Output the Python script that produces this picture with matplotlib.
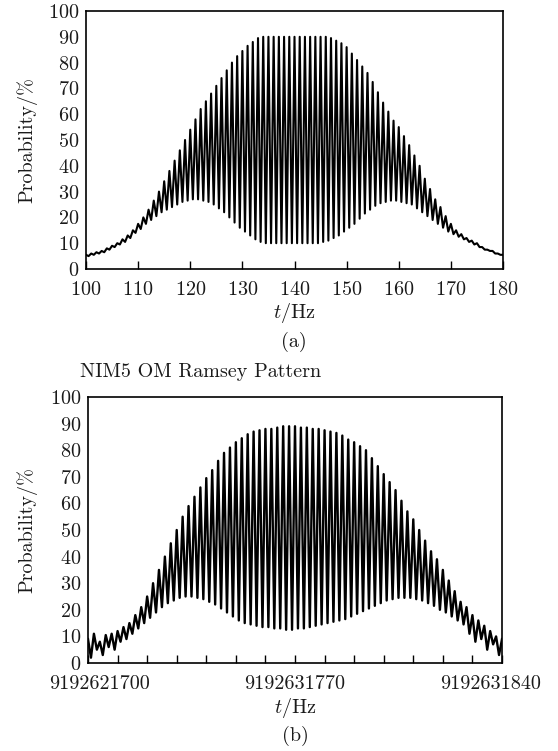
import numpy as np
import matplotlib
matplotlib.use('Agg')
import matplotlib.pyplot as plt
import matplotlib.transforms as mtransforms

plt.rcParams['font.family'] = 'cmr10'
plt.rcParams['mathtext.fontset'] = 'cm'
plt.rcParams['axes.formatter.use_mathtext'] = True

# --- (a) fringe peaks (whole Hz) and troughs (half Hz) ---
peak_hz_a = np.arange(100, 181)
peak_a = [5.5, 6, 6.5, 7, 8, 9, 10, 11.5, 13, 15,
          17.5, 20, 23, 26.5, 30, 34, 38, 42, 46, 50,
          54, 58, 62, 65, 68, 71, 74, 77, 80, 82.5,
          84.5, 86.5, 88, 89.5, 90,
          90, 90, 90, 90, 90, 90, 90, 90, 90, 90, 90, 90,
          89.5, 88.5, 87.5, 86, 83.5, 81, 78.5, 76, 72.5, 68.5,
          64.5, 61, 57.5, 55, 51.5, 48, 44, 40, 35, 31,
          27, 24, 20.5, 17.5, 15, 13.5, 12, 11, 10, 8.5,
          7.5, 7, 6, 5.5]
trough_hz_a = np.arange(100.5, 180, 1.0)
trough_a = [5, 5.5, 6, 6.5, 7.5, 8.5, 9.5, 10.5, 12, 14,
            15.5, 17.5, 19, 20.5, 22, 23, 24, 25, 26, 26.5,
            27, 27, 26.5, 26, 25, 23.5, 22, 20, 18, 16,
            14.5, 13, 11.5, 10.5, 10,
            10, 10, 10, 10, 10, 10, 10, 10, 10, 10,
            10.5, 11, 12, 13, 14.5, 16, 17.5, 19.5, 21.5, 23,
            24.5, 25.5, 26, 26.5, 26.5, 26, 25.5, 25, 23.5, 22,
            20.5, 19, 17.5, 16, 14.5, 13.5, 12.5, 11.5, 10.5, 9.5,
            8.5, 7.5, 7, 6, 5.5]

# --- (b) measured pattern, offset from left edge in Hz ---
peak_off_b = np.arange(0, 141, 2)
peak_b = [9, 11, 8, 10.5, 11, 12, 13.5, 15, 18, 21,
          25, 30, 35, 40, 45, 50, 55, 59, 62.5, 66,
          69.5, 72.5, 76, 79, 81, 83, 84.5, 86, 87, 87.5,
          88, 88, 88.5, 89, 89, 89, 88.5, 88.5, 88, 88,
          87.5, 87, 86.5, 85.5, 84, 83, 81.5, 80, 77, 74,
          71, 68, 65, 61, 57, 54, 50, 46, 42, 39,
          35, 31, 27, 23, 21, 18, 16, 14, 12, 10,
          9]
trough_off_b = np.arange(1, 140, 2)
trough_b = [2, 5, 3, 6, 5, 8, 9, 11, 13, 15,
            17, 19, 21, 22.5, 23.5, 24.5, 25, 25, 24.5, 24,
            23, 22, 20.5, 19, 17.5, 16, 15, 14.5, 14, 13.5,
            13.5, 13, 13, 12.5, 12.5, 13, 13, 13.5, 14, 14.5,
            15, 15.5, 16, 16.5, 17.5, 18.5, 19.5, 20.5, 21.5, 22.5,
            23.5, 24, 24.5, 24.5, 24.5, 24, 23.5, 22.5, 21.5, 20,
            19, 17.5, 16, 14.5, 11, 8, 9, 5, 7, 3]
tick_off_b = [0, 70, 140]
tick_labels_b = ['9192621700', '9192631770', '9192631840']


def interleave(xp, yp, xt, yt):
    x = np.concatenate([xp, xt])
    y = np.concatenate([yp, yt])
    order = np.argsort(x)
    return x[order], y[order]


xa, ya = interleave(peak_hz_a, peak_a, trough_hz_a, trough_a)
xb, yb = interleave(peak_off_b, peak_b, trough_off_b, trough_b)

fs = 14.5
ink = '#1a1a1a'

fig = plt.figure(figsize=(5.58, 7.51), dpi=100)
ax_a = fig.add_axes([86/558, 1 - 269/751, 417/558, 258/751])
ax_b = fig.add_axes([88/558, 1 - 663/751, 414/558, 266/751])

ax_a.plot(xa, ya, color='black', lw=1.5)
ax_b.plot(xb, yb, color='black', lw=1.7)

for ax in (ax_a, ax_b):
    ax.set_ylim(0, 100)
    ax.set_yticks(np.arange(0, 101, 10))
    ax.tick_params(axis='y', length=0, pad=5, labelsize=fs, labelcolor=ink)
    ax.tick_params(axis='x', which='both', direction='in', length=6, width=1.0,
                   pad=9, labelsize=fs, labelcolor=ink)
    for s in ax.spines.values():
        s.set_linewidth(1.2)
    ax.set_ylabel('Probability/%', fontsize=fs, color=ink)
    ax.set_xlabel('$t$/Hz', fontsize=fs, color=ink)
    ax.xaxis.label.set_va('center')
    ax.yaxis.label.set_va('center')

ax_a.set_xlim(100, 180)
ax_a.set_xticks(np.arange(100, 181, 10))
ax_a.xaxis.set_label_coords(0.5, -44/258)
ax_a.yaxis.set_label_coords(-(86 - 27)/417, 0.5)

ax_b.set_xlim(0, 140)
ax_b.set_xticks(tick_off_b)
ax_b.set_xticklabels(tick_labels_b)
ax_b.set_xticks(np.arange(0, 141, 10), minor=True)
ax_b.xaxis.set_label_coords(0.5, -45/266)
ax_b.yaxis.set_label_coords(-(88 - 27)/414, 0.5)

# pull the outer tick labels of (b) a little inward
labs = ax_b.get_xticklabels()
for lab, dx in ((labs[0], 12), (labs[-1], -11)):
    lab.set_transform(lab.get_transform() +
                      mtransforms.ScaledTranslation(dx/100, 0, fig.dpi_scale_trans))

fig.text(294/558, 1 - 342/751, '(a)', ha='center', va='center', fontsize=fs, color=ink)
fig.text(295/558, 1 - 736/751, '(b)', ha='center', va='center', fontsize=fs, color=ink)
fig.text(80/558, 1 - 372/751, 'NIM5 OM Ramsey Pattern', ha='left', va='center',
         fontsize=fs, color=ink)

fig.savefig('out.png', dpi=100)
